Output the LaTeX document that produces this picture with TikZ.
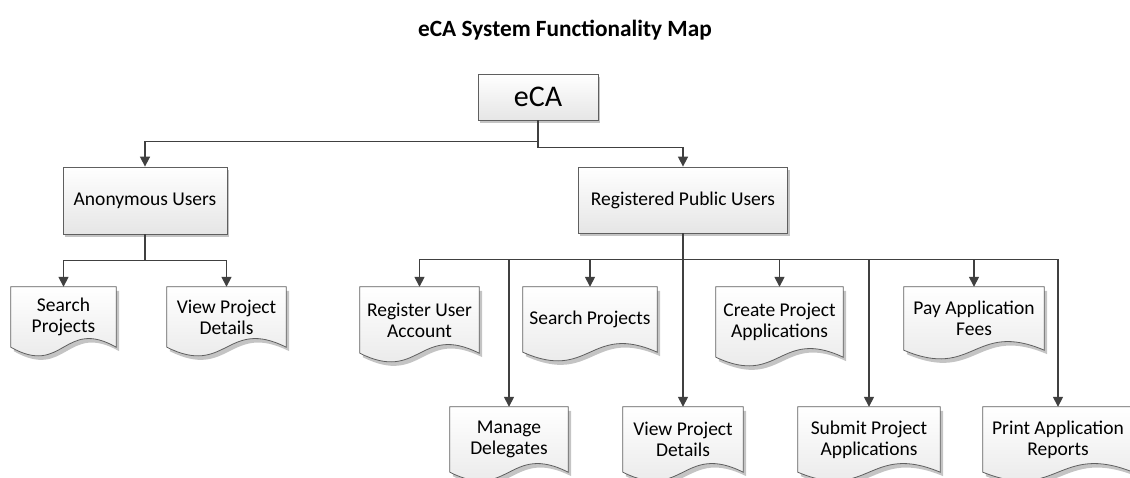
\documentclass[tikz,border=0pt]{standalone}
\usepackage{fontspec}
\setmainfont{Carlito}
\usetikzlibrary{arrows.meta,calc,backgrounds}

\definecolor{linegray}{HTML}{404040}
\definecolor{boxline}{HTML}{5F5F5F}
\definecolor{shadowgray}{HTML}{C4C4C4}

\newcommand{\nodefont}{\fontsize{19.5}{21}\selectfont}
\newcommand{\docoutline}[1]{(#1.north west) -- (#1.north east) -- (#1.south east)
  .. controls ($(#1.south)+(0,-30)$) and ($(#1.south)+(0,30)$) .. (#1.south west) -- cycle}

\begin{document}
\begin{tikzpicture}[x=1pt,y=-1pt,
    box/.style={rectangle,draw=boxline,line width=0.8pt,top color=white,bottom color=black!10,
                inner sep=0pt,font=\nodefont},
    doc/.style={rectangle,inner sep=0pt,align=center,font=\nodefont},
    docfill/.style={draw=boxline,line width=0.8pt,top color=white,bottom color=black!10},
    arr/.style={draw=linegray,line width=1.6pt,-{Triangle[length=10pt,width=10pt]}}]
\useasboundingbox (0,0) rectangle (1130,478);

\node[font=\bfseries\fontsize{23.3}{27}\selectfont] (T) at (565,30) {eCA System Functionality Map};

\node[box,minimum width=120pt,minimum height=46pt,font=\fontsize{30}{32}\selectfont] (E) at (538,97) {eCA};
\node[box,minimum width=164pt,minimum height=67pt] (AU) at (145,200.5) {Anonymous Users};
\node[box,minimum width=209pt,minimum height=66pt] (RU) at (683,200) {Registered Public Users};

\node[doc,minimum width=105pt,minimum height=60pt] (AS) at (63.5,317) {Search\\Projects};
\node[doc,minimum width=119pt,minimum height=60pt] (AV) at (226.5,317) {View Project\\Details};

\node[doc,minimum width=119pt,minimum height=66pt] (RA) at (419.5,320) {Register User\\Account};
\node[doc,minimum width=134pt,minimum height=65pt] (SP) at (590,319.5) {Search Projects};
\node[doc,minimum width=127pt,minimum height=70pt] (CA) at (779.5,322) {Create Project\\Applications};
\node[doc,minimum width=140pt,minimum height=63pt] (PF) at (974,318.5) {Pay Application\\Fees};
\node[doc,minimum width=118pt,minimum height=65pt] (MD) at (509,439.5) {Manage\\Delegates};
\node[doc,minimum width=120pt,minimum height=65pt] (VD) at (683,439.5) {View Project\\Details};
\node[doc,minimum width=142pt,minimum height=65pt] (SA) at (869,439.5) {Submit Project\\Applications};
\node[doc,minimum width=150pt,minimum height=65pt] (PR) at (1058,439.5) {Print Application\\Reports};

\begin{pgfonlayer}{background}
\foreach \n in {E,AU,RU}
    \fill[shadowgray,transform canvas={shift={(2pt,-3pt)}}] (\n.north west) rectangle (\n.south east);
\foreach \n in {AS,AV,RA,SP,CA,PF,MD,VD,SA,PR}{
    \fill[shadowgray,transform canvas={shift={(3pt,-4pt)}}] \docoutline{\n};
    \path[docfill] \docoutline{\n};
}
\end{pgfonlayer}

\draw[arr] (E.south) -- ++(0,21) -| (AU.north);
\draw[arr] (E.south) -- ++(0,27) -| (RU.north);
\foreach \n in {AS,AV}
    \draw[arr] (AU.south) -- ++(0,26) -| (\n.north);
\foreach \n in {RA,MD,SP,VD,CA,SA,PF,PR}
    \draw[arr] (RU.south) -- ++(0,26) -| (\n.north);
\end{tikzpicture}
\end{document}
